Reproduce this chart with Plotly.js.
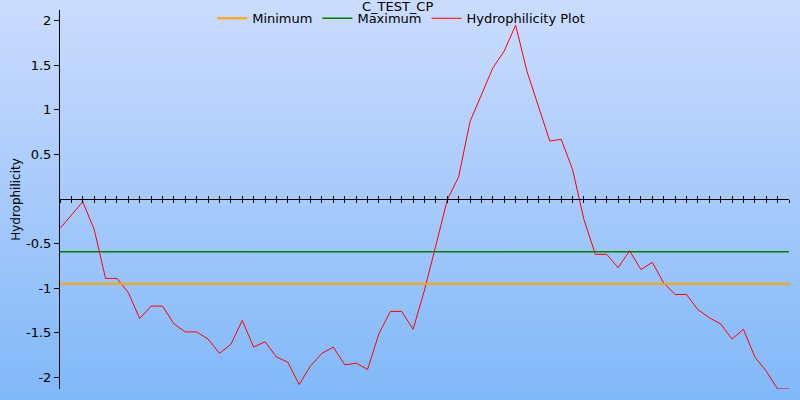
<!DOCTYPE html>
<html>
<head>
<meta charset="utf-8">
<script src="https://cdn.plot.ly/plotly-3.0.1.min.js"></script>
<style>
  html, body { margin: 0; padding: 0; }
  #chart { width: 800px; height: 400px; background: linear-gradient(to bottom, #cbdcfe 0%, #a7cafb 50%, #80b8f8 100%); }
  #chart .xtick, #chart .ytick, #chart .xlines-above, #chart .ylines-above { shape-rendering: crispEdges; }
</style>
</head>
<body>
<div id="chart"></div>
<script>
// Hydrophilicity values per position
const hydrophilicity = [
  -0.33, -0.18, -0.03, -0.34, -0.89, -0.89, -1.05, -1.34, -1.20, -1.20,
  -1.40, -1.49, -1.49, -1.57, -1.73, -1.63, -1.36, -1.66, -1.60, -1.77,
  -1.83, -2.08, -1.87, -1.73, -1.66, -1.86, -1.84, -1.91, -1.51, -1.26,
  -1.26, -1.46, -1.02, -0.52, -0.01, 0.25, 0.87, 1.17, 1.47, 1.66,
  1.95, 1.43, 1.04, 0.65, 0.67, 0.33, -0.23, -0.62, -0.62, -0.77,
  -0.58, -0.79, -0.71, -0.94, -1.07, -1.07, -1.24, -1.33, -1.40, -1.57,
  -1.46, -1.77, -1.93, -2.13, -2.13
];
const minimumValue = -0.95;
const maximumValue = -0.59;
const xExtent = [0, 64];
const yTickVals = [-2, -1.5, -1, -0.5, 0.5, 1, 1.5, 2];
const yTickText = ['-2', '-1.5', '-1', '-0.5', '0.5', '1', '1.5', '2'];

const positions = hydrophilicity.map((_, i) => i);
const yRange = [-2.13, 2.12];
const zeroFrac = (0 - yRange[0]) / (yRange[1] - yRange[0]);

const traces = [
  { x: xExtent, y: [minimumValue, minimumValue], name: 'Minimum', mode: 'lines',
    line: { color: '#ffa500', width: 2 }, xaxis: 'x2' },
  { x: xExtent, y: [maximumValue, maximumValue], name: 'Maximum', mode: 'lines',
    line: { color: '#008000', width: 1.5 } },
  { x: positions, y: hydrophilicity, name: 'Hydrophilicity Plot', mode: 'lines',
    line: { color: '#ff0000', width: 1 } }
];

const layout = {
  width: 800, height: 400,
  margin: { l: 60, r: 11, t: 10, b: 11, autoexpand: false },
  paper_bgcolor: 'rgba(0,0,0,0)',
  plot_bgcolor: 'rgba(0,0,0,0)',
  font: { family: 'DejaVu Sans, Verdana, sans-serif', color: '#000', size: 13 },
  title: { text: 'C_TEST_CP', x: 0.497, xanchor: 'center', y: 0.995, yanchor: 'top',
           font: { size: 13, color: '#000' } },
  showlegend: true,
  legend: { orientation: 'h', x: 0.468, xanchor: 'center', y: 0.978, yanchor: 'middle',
            bgcolor: 'rgba(0,0,0,0)', font: { size: 13 }, itemwidth: 30 },
  xaxis: {
    range: xExtent, anchor: 'free', position: zeroFrac,
    showline: true, linecolor: '#000', linewidth: 1,
    ticks: 'outside', ticklen: 3, tickcolor: '#000', tickwidth: 1,
    dtick: 1, tick0: 0, showticklabels: false, showgrid: false, zeroline: false
  },
  xaxis2: {
    range: xExtent, matches: 'x', overlaying: 'x', anchor: 'free', position: zeroFrac,
    showline: false, ticks: 'inside', ticklen: 3, tickcolor: '#000', tickwidth: 1,
    dtick: 1, tick0: 0, showticklabels: false, showgrid: false, zeroline: false
  },
  yaxis: {
    range: yRange, showline: true, linecolor: '#000', linewidth: 1,
    ticks: 'outside', ticklen: 5, tickcolor: '#000', tickwidth: 1,
    tickvals: yTickVals, ticktext: yTickText,
    showgrid: false, zeroline: false,
    tickfont: { size: 13 },
    title: { text: 'Hydrophilicity', font: { size: 12 }, standoff: 2 }
  }
};

Plotly.newPlot('chart', traces, layout, { displayModeBar: false, staticPlot: true });
</script>
</body>
</html>
